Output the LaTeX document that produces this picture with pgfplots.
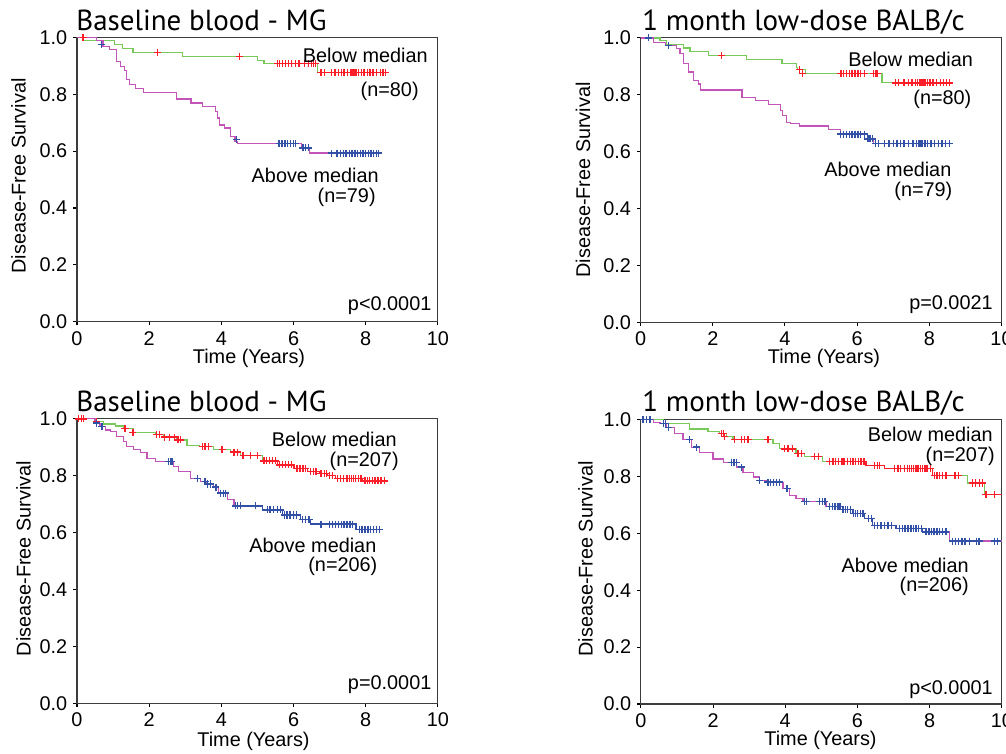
\documentclass[border=0pt]{standalone}
\usepackage{fontspec}
\setmainfont{Liberation Sans}
\newfontfamily\titlefont{PT Sans}
\usepackage{pgfplots}
\pgfplotsset{compat=1.18}

\definecolor{kmgreen}{RGB}{120,200,90}
\definecolor{kmmag}{RGB}{195,85,185}
\definecolor{kmred}{RGB}{250,30,40}
\definecolor{kmblue}{RGB}{50,80,165}
\definecolor{axisgray}{RGB}{60,60,60}

\newcommand{\lab}{\fontsize{11.3}{13}\selectfont}
\newcommand{\ttl}{\titlefont\fontsize{16.5}{20}\selectfont}

\pgfplotsset{
  kmaxis/.style={
    scale only axis, width=7.22cm, height=5.69cm, anchor=south west,
    xmin=0, xmax=10, ymin=0, ymax=1,
    xtick={0,2,4,6,8,10}, ytick={0,0.2,0.4,0.6,0.8,1},
    tick align=outside, tick pos=left, major tick length=0.07cm,
    axis line style={draw=axisgray, line width=0.6pt},
    every tick/.style={black, line width=0.6pt},
    ticklabel style={font=\lab},
    x tick label style={/pgf/number format/.cd, assume math mode=true},
    y tick label style={/pgf/number format/.cd, fixed, fixed zerofill, precision=1, assume math mode=true},
  },
  lowG/.style={const plot, draw=kmgreen, line width=0.7pt, mark=none},
  hiM/.style={const plot, draw=kmmag, line width=0.7pt, mark=none},
  segR/.style={const plot, draw=kmred, line width=0.7pt, mark=none},
  segB/.style={const plot, draw=kmblue, line width=0.7pt, mark=none},
  cenR/.style={only marks, mark=+, mark size=2pt, mark options={draw=kmred, line width=0.75pt}},
  cenB/.style={only marks, mark=+, mark size=2pt, mark options={draw=kmblue, line width=0.75pt}},
}

\begin{document}
\begin{tikzpicture}[x=0.02cm, y=0.02cm]

% ---------- top left: baseline blood, n=80/79 ----------
\begin{axis}[kmaxis, at={(1.54cm,8.626cm)}]
  \addplot[lowG] coordinates {
    (0,1) (0.17,0.988) (1.04,0.974) (1.27,0.96) (1.55,0.946) (2.93,0.933)
    (5.0,0.919) (5.18,0.907) (6.66,0.877) (8.55,0.877)};
  \addplot[hiM] coordinates {
    (0,1) (0.535,0.988) (0.72,0.968) (0.9,0.958) (1.09,0.915) (1.2,0.898)
    (1.32,0.884) (1.38,0.851) (1.46,0.833) (1.62,0.821) (1.84,0.806)
    (2.75,0.783) (3.16,0.769) (3.48,0.757) (3.83,0.739) (3.9,0.716)
    (3.94,0.692) (4.08,0.681) (4.26,0.651) (4.38,0.634) (4.45,0.626)
    (6.23,0.611) (6.45,0.593) (8.38,0.593)};
  \addplot[segR] coordinates {(5.55,0.907) (6.62,0.907)};
  \addplot[segR] coordinates {(6.76,0.877) (8.55,0.877)};
  \addplot[segB] coordinates {(5.6,0.626) (6.06,0.626)};
  \addplot[segB] coordinates {(7.05,0.593) (8.38,0.593)};
  \addplot[cenR] coordinates {
    (0.17,1) (2.23,0.946) (4.51,0.933)
    (5.55,0.907) (5.62,0.907) (5.7,0.907) (5.78,0.907) (5.86,0.907) (5.95,0.907)
    (6.05,0.907) (6.15,0.907) (6.3,0.907) (6.42,0.907) (6.5,0.907) (6.55,0.907) (6.6,0.907)
    (6.76,0.877) (6.85,0.877) (7.05,0.877) (7.15,0.877) (7.25,0.877) (7.32,0.877)
    (7.4,0.877) (7.5,0.877) (7.58,0.877) (7.62,0.877) (7.66,0.877) (7.7,0.877)
    (7.75,0.877) (7.8,0.877) (7.88,0.877) (7.95,0.877) (8.05,0.877) (8.12,0.877)
    (8.2,0.877) (8.3,0.877) (8.4,0.877) (8.48,0.877) (8.55,0.877)};
  \addplot[cenB] coordinates {
    (0.67,0.975) (4.42,0.64)
    (5.6,0.626) (5.68,0.626) (5.76,0.626) (5.84,0.626) (5.92,0.626) (6.0,0.626) (6.06,0.626)
    (6.26,0.611) (6.33,0.611) (6.42,0.611)
    (7.05,0.593) (7.2,0.593) (7.3,0.593) (7.38,0.593) (7.45,0.593) (7.55,0.593)
    (7.62,0.593) (7.68,0.593) (7.72,0.593) (7.78,0.593) (7.85,0.593) (7.92,0.593)
    (8.0,0.593) (8.08,0.593) (8.15,0.593) (8.22,0.593) (8.3,0.593) (8.36,0.593)};
\end{axis}

% ---------- top right: 1 month low-dose, n=80/79 ----------
\begin{axis}[kmaxis, at={(12.814cm,8.614cm)}]
  \addplot[lowG] coordinates {
    (0,1) (0.54,0.99) (0.72,0.976) (1.18,0.965) (1.37,0.953) (1.88,0.938)
    (2.94,0.923) (3.92,0.909) (4.31,0.897) (4.35,0.888) (4.56,0.874)
    (6.69,0.842) (8.55,0.842)};
  \addplot[hiM] coordinates {
    (0,1) (0.35,0.985) (0.68,0.974) (1.0,0.962) (1.09,0.945) (1.19,0.909)
    (1.32,0.88) (1.46,0.85) (1.6,0.838) (1.65,0.817) (2.81,0.791) (3.18,0.78)
    (3.55,0.766) (3.87,0.745) (3.94,0.727) (4.05,0.703) (4.15,0.70) (4.4,0.69)
    (5.2,0.678) (5.54,0.662) (6.28,0.645) (6.46,0.628) (8.55,0.628)};
  \addplot[segR] coordinates {(5.55,0.874) (6.2,0.874)};
  \addplot[segR] coordinates {(7.06,0.842) (8.55,0.842)};
  \addplot[segB] coordinates {(5.54,0.662) (6.2,0.662)};
  \addplot[segB] coordinates {(6.5,0.628) (8.55,0.628)};
  \addplot[cenR] coordinates {
    (2.25,0.938) (4.4,0.888) (4.48,0.874)
    (5.55,0.874) (5.62,0.874) (5.7,0.874) (5.78,0.874) (5.86,0.874) (5.94,0.874)
    (6.02,0.874) (6.1,0.874) (6.2,0.874) (6.45,0.874) (6.5,0.874) (6.55,0.874)
    (7.06,0.842) (7.15,0.842) (7.3,0.842) (7.42,0.842) (7.52,0.842) (7.62,0.842)
    (7.68,0.842) (7.72,0.842) (7.76,0.842) (7.8,0.842) (7.85,0.842) (7.9,0.842)
    (7.95,0.842) (8.02,0.842) (8.1,0.842) (8.2,0.842) (8.3,0.842) (8.4,0.842)
    (8.48,0.842) (8.55,0.842)};
  \addplot[cenB] coordinates {
    (0.21,1) (0.77,0.974)
    (5.54,0.662) (5.62,0.662) (5.7,0.662) (5.78,0.662) (5.86,0.662) (5.94,0.662)
    (6.02,0.662) (6.1,0.662) (6.2,0.662)
    (6.3,0.645) (6.36,0.645) (6.42,0.645)
    (6.5,0.628) (6.6,0.628) (6.75,0.628) (6.88,0.628) (7.0,0.628) (7.1,0.628)
    (7.2,0.628) (7.3,0.628) (7.42,0.628) (7.55,0.628) (7.65,0.628) (7.7,0.628)
    (7.74,0.628) (7.78,0.628) (7.82,0.628) (7.88,0.628) (7.95,0.628) (8.05,0.628)
    (8.15,0.628) (8.25,0.628) (8.35,0.628) (8.45,0.628) (8.55,0.628)};
\end{axis}

% ---------- bottom left: baseline blood, n=207/206 ----------
\begin{axis}[kmaxis, at={(1.54cm,0.994cm)}]
  \addplot[lowG] coordinates {
    (0,1) (0.55,0.991) (0.73,0.982) (1.06,0.975) (1.29,0.967) (1.57,0.953)
    (2.17,0.946) (2.4,0.936) (2.77,0.926) (3.05,0.906) (3.4,0.903) (3.79,0.893)
    (4.25,0.883) (4.53,0.87) (5.13,0.852) (5.55,0.838) (6.01,0.826) (6.39,0.815)
    (6.71,0.807) (6.94,0.80) (7.17,0.791) (7.91,0.782) (8.52,0.782)};
  \addplot[hiM] coordinates {
    (0,1) (0.5,0.985) (0.64,0.973) (0.78,0.961) (0.92,0.955) (1.1,0.938)
    (1.29,0.92) (1.38,0.903) (1.57,0.893) (1.75,0.882) (1.94,0.862) (2.17,0.85)
    (2.68,0.832) (2.82,0.815) (3.14,0.791) (3.42,0.78) (3.6,0.771) (3.79,0.76)
    (3.93,0.739) (4.16,0.717) (4.35,0.694) (5.13,0.68) (5.69,0.662) (6.2,0.647)
    (6.48,0.63) (7.73,0.612) (8.38,0.612)};
  \addplot[segR] coordinates {
    (5.18,0.852) (5.55,0.838) (6.01,0.826) (6.39,0.815) (6.71,0.807)
    (6.94,0.80) (7.17,0.791) (7.91,0.782) (8.52,0.782)};
  \addplot[segB] coordinates {
    (4.39,0.694) (5.13,0.68) (5.69,0.662) (6.2,0.647) (6.48,0.63)
    (7.73,0.612) (8.38,0.612)};
  \addplot[cenR] coordinates {
    (0.05,1) (0.12,1) (0.18,1) (0.55,0.991) (1.33,0.967) (1.55,0.953)
    (2.2,0.946) (2.28,0.946) (2.43,0.936) (2.57,0.936) (2.7,0.936) (2.8,0.926)
    (2.86,0.926) (3.47,0.903) (3.55,0.903) (3.65,0.903) (4.02,0.893) (4.35,0.883)
    (4.45,0.883) (4.6,0.87) (4.81,0.87) (5.0,0.87)
    (5.18,0.852) (5.26,0.852) (5.34,0.852) (5.42,0.852) (5.5,0.852)
    (5.62,0.838) (5.7,0.838) (5.78,0.838) (5.86,0.838) (5.94,0.838)
    (6.1,0.826) (6.18,0.826) (6.26,0.826) (6.34,0.826)
    (6.47,0.815) (6.55,0.815) (6.62,0.815)
    (6.76,0.807) (6.85,0.807) (6.92,0.807) (7.0,0.80) (7.08,0.80)
    (7.22,0.791) (7.3,0.791) (7.38,0.791) (7.46,0.791) (7.5,0.791) (7.55,0.791)
    (7.6,0.791) (7.66,0.791) (7.72,0.791) (7.8,0.791) (7.87,0.791)
    (7.96,0.782) (8.0,0.782) (8.04,0.782) (8.1,0.782) (8.18,0.782) (8.26,0.782)
    (8.34,0.782) (8.42,0.782) (8.52,0.782)};
  \addplot[cenB] coordinates {
    (0.55,0.985) (0.69,0.973) (2.54,0.85) (2.6,0.85) (2.63,0.85) (3.33,0.791)
    (3.55,0.78) (3.62,0.771) (3.7,0.771) (3.85,0.76) (3.97,0.739) (4.05,0.739)
    (4.12,0.739) (4.39,0.694) (4.45,0.694) (4.53,0.694) (4.95,0.694)
    (5.27,0.68) (5.35,0.68) (5.45,0.68) (5.55,0.68) (5.64,0.68)
    (5.75,0.662) (5.82,0.662) (5.9,0.662) (6.0,0.662) (6.08,0.662)
    (6.25,0.647) (6.33,0.647) (6.43,0.647)
    (6.76,0.63) (6.99,0.63) (7.08,0.63) (7.16,0.63) (7.24,0.63) (7.32,0.63)
    (7.4,0.63) (7.48,0.63) (7.56,0.63) (7.64,0.63)
    (7.82,0.612) (7.9,0.612) (7.98,0.612) (8.06,0.612) (8.14,0.612) (8.22,0.612)
    (8.3,0.612) (8.38,0.612)};
\end{axis}

% ---------- bottom right: 1 month low-dose, n=207/206 ----------
\begin{axis}[kmaxis, at={(12.82cm,0.98cm)}]
  \addplot[lowG] coordinates {
    (0,1) (0.62,0.987) (1.35,0.967) (1.86,0.959) (2.18,0.95) (2.37,0.94)
    (2.55,0.929) (3.66,0.915) (3.84,0.897) (4.3,0.88) (4.53,0.87) (5.04,0.853)
    (6.24,0.839) (6.75,0.827) (8.08,0.804) (9.05,0.777) (9.51,0.737) (10,0.737)};
  \addplot[hiM] coordinates {
    (0,1) (0.34,0.991) (0.53,0.985) (0.71,0.973) (0.94,0.95) (1.17,0.929)
    (1.4,0.903) (1.63,0.885) (2.0,0.861) (2.28,0.85) (2.65,0.833) (2.83,0.815)
    (3.11,0.798) (3.29,0.786) (3.47,0.78) (3.94,0.757) (4.12,0.733) (4.3,0.722)
    (4.49,0.712) (5.13,0.695) (5.59,0.683) (5.87,0.669) (6.19,0.651) (6.42,0.628)
    (7.07,0.616) (7.81,0.605) (8.54,0.573) (10,0.573)};
  \addplot[segR] coordinates {
    (5.23,0.853) (6.24,0.839) (6.75,0.827) (8.08,0.804) (8.8,0.804)};
  \addplot[segR] coordinates {(9.19,0.777) (9.46,0.777)};
  \addplot[segR] coordinates {(9.56,0.737) (10,0.737)};
  \addplot[segB] coordinates {
    (5.2,0.695) (5.59,0.683) (5.87,0.669) (6.19,0.651) (6.42,0.628)
    (7.07,0.616) (7.81,0.605) (8.45,0.605)};
  \addplot[segB] coordinates {(8.64,0.573) (9.37,0.573)};
  \addplot[cenR] coordinates {
    (2.23,0.95) (2.28,0.95) (2.32,0.94) (2.6,0.929) (2.78,0.929) (2.88,0.929)
    (2.97,0.929) (3.52,0.929) (3.98,0.897) (4.08,0.897) (4.21,0.897) (4.35,0.88)
    (4.45,0.88) (4.81,0.87) (4.92,0.87)
    (5.23,0.853) (5.32,0.853) (5.4,0.853) (5.48,0.853) (5.55,0.853) (5.6,0.853)
    (5.65,0.853) (5.72,0.853) (5.8,0.853) (5.88,0.853) (5.95,0.853) (6.02,0.853)
    (6.1,0.853) (6.18,0.853)
    (6.47,0.839) (6.55,0.839) (6.62,0.839)
    (7.02,0.827) (7.12,0.827) (7.2,0.827) (7.3,0.827) (7.38,0.827) (7.45,0.827)
    (7.5,0.827) (7.55,0.827) (7.6,0.827) (7.65,0.827) (7.7,0.827) (7.75,0.827)
    (7.8,0.827) (7.85,0.827) (7.9,0.827) (7.95,0.827) (8.02,0.827)
    (8.13,0.804) (8.2,0.804) (8.28,0.804) (8.36,0.804) (8.45,0.804) (8.7,0.804) (8.8,0.804)
    (9.19,0.777) (9.28,0.777) (9.38,0.777) (9.46,0.777)
    (9.56,0.737) (9.79,0.737)};
  \addplot[cenB] coordinates {
    (0.06,1) (0.15,1) (0.25,1) (0.62,0.985) (0.68,0.985) (0.76,0.973)
    (1.35,0.929) (1.54,0.903) (2.51,0.85) (2.58,0.85) (2.65,0.85) (2.78,0.833)
    (3.29,0.786) (3.52,0.78) (3.6,0.78) (3.68,0.78) (3.76,0.78) (3.84,0.78)
    (4.05,0.757) (4.53,0.712) (4.58,0.712) (4.95,0.712) (5.04,0.712) (5.1,0.712)
    (5.23,0.695) (5.3,0.695) (5.38,0.695) (5.46,0.695) (5.52,0.695)
    (5.6,0.683) (5.66,0.683) (5.72,0.683) (5.8,0.683)
    (5.9,0.669) (5.95,0.669) (6.0,0.669) (6.08,0.669) (6.15,0.669)
    (6.3,0.651) (6.38,0.651)
    (6.47,0.628) (6.55,0.628) (6.65,0.628) (6.75,0.628) (6.85,0.628) (6.95,0.628)
    (7.16,0.616) (7.25,0.616) (7.32,0.616) (7.4,0.616) (7.48,0.616) (7.55,0.616)
    (7.62,0.616) (7.7,0.616) (7.78,0.616)
    (7.9,0.605) (7.98,0.605) (8.05,0.605) (8.12,0.605) (8.2,0.605) (8.28,0.605)
    (8.36,0.605) (8.45,0.605)
    (8.64,0.573) (8.72,0.573) (8.8,0.573) (8.9,0.573) (8.98,0.573) (9.1,0.573)
    (9.3,0.573) (9.37,0.573) (9.79,0.573) (9.88,0.573)};
\end{axis}

% ---------- titles ----------
\node[anchor=base west, inner sep=0pt, font=\ttl] at (76,722.3) {Baseline blood - MG};
\node[anchor=base west, inner sep=0pt, font=\ttl] at (642,722.3) {1 month low-dose BALB/c};
\node[anchor=base west, inner sep=0pt, font=\ttl] at (76,341) {Baseline blood - MG};
\node[anchor=base west, inner sep=0pt, font=\ttl] at (642,341) {1 month low-dose BALB/c};

% ---------- axis labels ----------
\foreach \px/\py in {18.5/577, 583/573, 23.5/194.5, 585.5/194}
  \node[rotate=90, inner sep=0pt, font=\lab] at (\px,\py) {Disease-Free Survival};
\node[anchor=base, inner sep=0pt, font=\lab] at (249,389) {Time (Years)};
\node[anchor=base, inner sep=0pt, font=\lab] at (824,389) {Time (Years)};
\node[anchor=base, inner sep=0pt, font=\lab] at (253.5,7) {Time (Years)};
\node[anchor=base, inner sep=0pt, font=\lab] at (820.5,8) {Time (Years)};

% ---------- annotations ----------
\node[anchor=base east, inner sep=0pt, font=\lab] at (428,690) {Below median};
\node[anchor=base east, inner sep=0pt, font=\lab] at (419,656) {(n=80)};
\node[anchor=base east, inner sep=0pt, font=\lab] at (379,570.3) {Above median};
\node[anchor=base east, inner sep=0pt, font=\lab] at (376,550.5) {(n=79)};
\node[anchor=base east, inner sep=0pt, font=\lab] at (431.7,442) {p<0.0001};

\node[anchor=base east, inner sep=0pt, font=\lab] at (973.3,686) {Below median};
\node[anchor=base east, inner sep=0pt, font=\lab] at (971.7,648) {(n=80)};
\node[anchor=base east, inner sep=0pt, font=\lab] at (951.7,576.3) {Above median};
\node[anchor=base east, inner sep=0pt, font=\lab] at (952.7,556.5) {(n=79)};
\node[anchor=base east, inner sep=0pt, font=\lab] at (993,443) {p=0.0021};

\node[anchor=base east, inner sep=0pt, font=\lab] at (397,306.3) {Below median};
\node[anchor=base east, inner sep=0pt, font=\lab] at (399,286.5) {(n=207)};
\node[anchor=base east, inner sep=0pt, font=\lab] at (376.7,200) {Above median};
\node[anchor=base east, inner sep=0pt, font=\lab] at (377.7,181.5) {(n=206)};
\node[anchor=base east, inner sep=0pt, font=\lab] at (431.7,63) {p=0.0001};

\node[anchor=base east, inner sep=0pt, font=\lab] at (993,311.3) {Below median};
\node[anchor=base east, inner sep=0pt, font=\lab] at (995,291.5) {(n=207)};
\node[anchor=base east, inner sep=0pt, font=\lab] at (969,180) {Above median};
\node[anchor=base east, inner sep=0pt, font=\lab] at (969,161.5) {(n=206)};
\node[anchor=base east, inner sep=0pt, font=\lab] at (993,58) {p<0.0001};

% page = reference frame
\pgfresetboundingbox
\path[use as bounding box] (0,0) rectangle (1006,753);
\end{tikzpicture}
\end{document}
